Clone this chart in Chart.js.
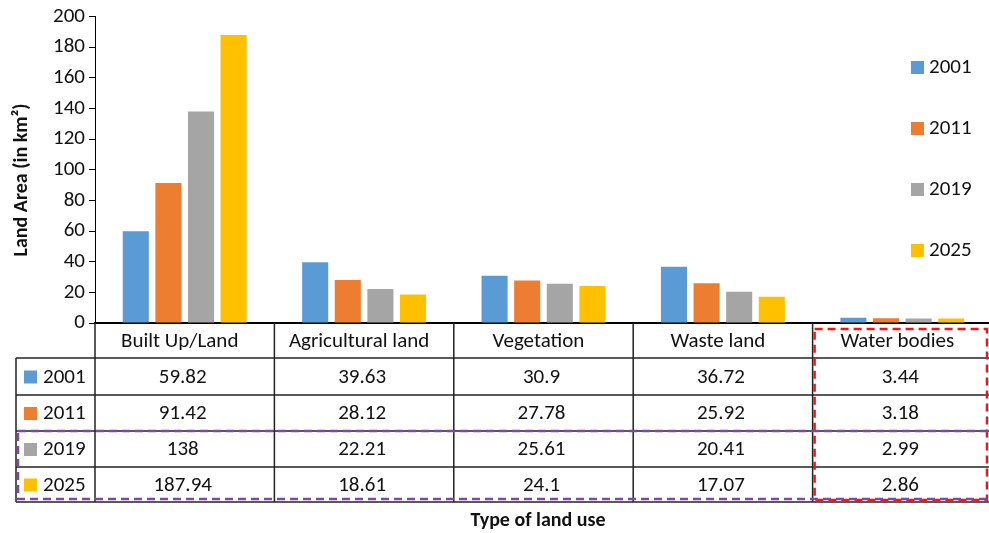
<!DOCTYPE html>
<html>
<head>
<meta charset="utf-8">
<script src="https://cdn.jsdelivr.net/npm/chart.js@4/dist/chart.umd.min.js"></script>
<style>
  html, body { margin: 0; padding: 0; background: #fff; overflow: hidden; }
  #wrap { width: 992px; height: 533px; position: relative; }
</style>
</head>
<body>
<div id="wrap"><canvas id="landUse"></canvas></div>
<script>
var categories = ["Built Up/Land", "Agricultural land", "Vegetation", "Waste land", "Water bodies"];
var years = ["2001", "2011", "2019", "2025"];
var values2001 = [59.82, 39.63, 30.9, 36.72, 3.44];
var values2011 = [91.42, 28.12, 27.78, 25.92, 3.18];
var values2019 = [138, 22.21, 25.61, 20.41, 2.99];
var values2025 = [187.94, 18.61, 24.1, 17.07, 2.86];
var yTicks = [0, 20, 40, 60, 80, 100, 120, 140, 160, 180, 200];

var colors = ["#5B9BD5", "#ED7D31", "#A5A5A5", "#FFC000"];
var seriesValues = [values2001, values2011, values2019, values2025];
var fontFamily = "Carlito, Lato, sans-serif";

var datasets = years.map(function (y, i) {
    return {
        label: y,
        data: seriesValues[i],
        backgroundColor: colors[i],
        categoryPercentage: 0.727,
        barPercentage: 0.8
    };
});

// draws the data table, legend, axis titles and the highlight boxes
var tablePlugin = {
    id: 'dataTable',
    afterDraw: function (chart) {
        var ctx = chart.ctx;
        var x = chart.scales.x;
        var area = chart.chartArea;
        var colW = (x.right - x.left) / categories.length;
        var top = area.bottom;
        var rows = [top, 358, 395, 431, 467, 502];
        var leftEdge = 16;

        ctx.save();
        ctx.strokeStyle = "#222";
        ctx.lineWidth = 1.5;
        // horizontal rules
        for (var r = 1; r < rows.length; r++) {
            ctx.beginPath();
            ctx.moveTo(leftEdge, rows[r]);
            ctx.lineTo(x.right, rows[r]);
            ctx.stroke();
        }
        // vertical rules
        ctx.beginPath();
        ctx.moveTo(leftEdge, rows[1]);
        ctx.lineTo(leftEdge, rows[5]);
        ctx.stroke();
        for (var c = 0; c < categories.length; c++) {
            var bx = x.left + c * colW;
            ctx.beginPath();
            ctx.moveTo(bx, top);
            ctx.lineTo(bx, rows[5]);
            ctx.stroke();
        }

        ctx.fillStyle = "#111";
        ctx.font = "21px " + fontFamily;
        ctx.textAlign = "center";
        ctx.textBaseline = "middle";
        categories.forEach(function (name, c) {
            var cx = x.getPixelForValue(c);
            ctx.fillText(name, cx - 5, (rows[0] + rows[1]) / 2 + 1);
            seriesValues.forEach(function (vals, s) {
                ctx.fillText(String(vals[c]), cx - 2, (rows[s + 1] + rows[s + 2]) / 2 + 1);
            });
        });

        // row labels with colour keys
        ctx.textAlign = "left";
        years.forEach(function (y, s) {
            var cy = (rows[s + 1] + rows[s + 2]) / 2;
            ctx.fillStyle = colors[s];
            ctx.fillRect(24, cy - 6, 13, 13);
            ctx.fillStyle = "#111";
            ctx.fillText(y, 43, cy + 1);
        });

        // legend
        var legendY = [67, 128, 189, 250];
        years.forEach(function (y, s) {
            ctx.fillStyle = colors[s];
            ctx.fillRect(911, legendY[s] - 6, 13, 13);
            ctx.fillStyle = "#111";
            ctx.fillText(y, 929, legendY[s] + 1);
        });

        // axis titles
        ctx.font = "bold 20px " + fontFamily;
        ctx.textAlign = "center";
        ctx.fillText("Type of land use", 538, 521);
        ctx.save();
        ctx.translate(22, 180);
        ctx.rotate(-Math.PI / 2);
        ctx.fillText("Land Area (in km\u00B2)", 0, 0);
        ctx.restore();

        // highlight boxes
        ctx.lineWidth = 2.5;
        ctx.setLineDash([8, 5]);
        ctx.strokeStyle = "#FF1010";
        ctx.strokeRect(x.left + 4 * colW + 2, 329, 987 - (x.left + 4 * colW + 2), 171);
        ctx.strokeStyle = "#7E48AA";
        ctx.strokeRect(18, 431, 990, 68);
        ctx.restore();
    }
};

new Chart(document.getElementById('landUse').getContext('2d'), {
    type: 'bar',
    data: { labels: categories, datasets: datasets },
    options: {
        responsive: true,
        maintainAspectRatio: false,
        animation: false,
        layout: { padding: { top: 16, left: 0, right: 0, bottom: 0 } },
        plugins: {
            legend: { display: false },
            tooltip: { enabled: false }
        },
        scales: {
            x: {
                ticks: { display: false },
                grid: { display: false },
                border: { display: true, color: "#000", width: 2 },
                afterFit: function (s) { s.height = 210; }
            },
            y: {
                min: 0,
                max: 200,
                afterBuildTicks: function (s) {
                    s.ticks = yTicks.map(function (v) { return { value: v }; });
                },
                ticks: {
                    color: "#111",
                    padding: 4,
                    font: { family: fontFamily, size: 21 }
                },
                grid: { drawOnChartArea: false, tickLength: 6, color: "#000" },
                border: { display: true, color: "#000", width: 1 },
                afterFit: function (s) { s.width = 95; }
            }
        }
    },
    plugins: [tablePlugin]
});
</script>
</body>
</html>
